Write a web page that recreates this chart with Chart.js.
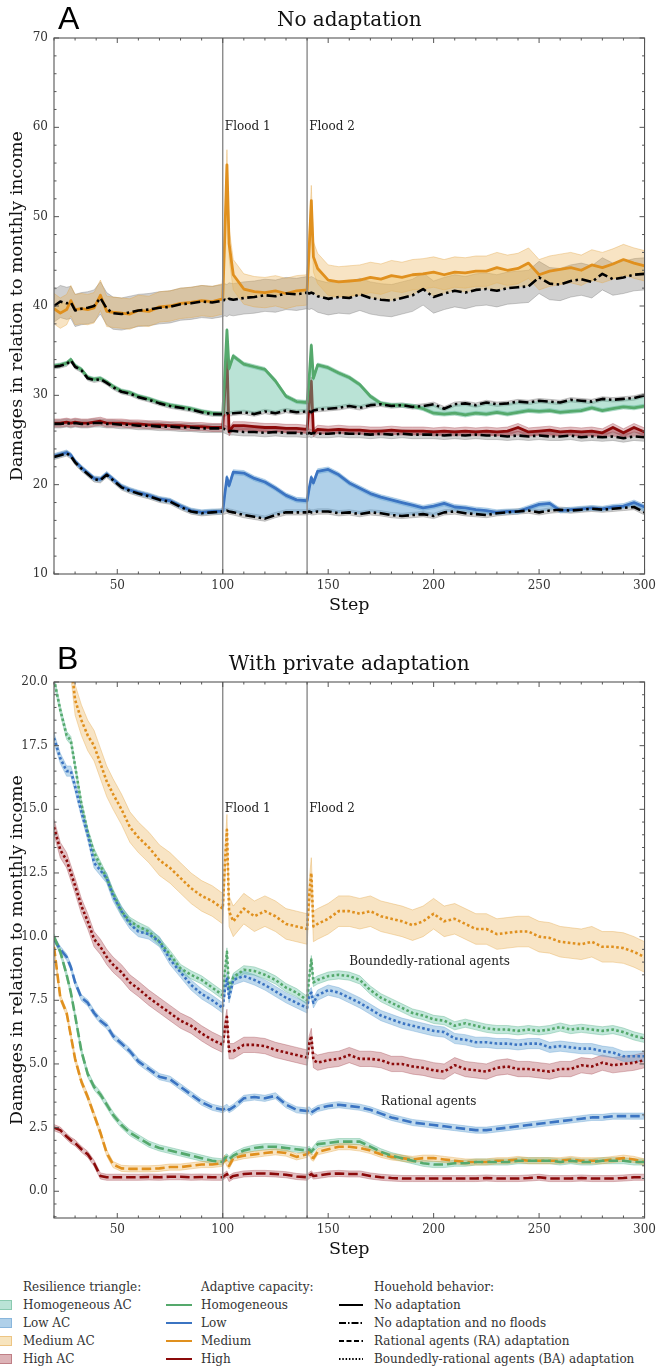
<!DOCTYPE html>
<html>
<head>
<meta charset="utf-8">
<script src="https://cdn.jsdelivr.net/npm/chart.js@4.4.1/dist/chart.umd.min.js"></script>
<style>
  html, body { margin: 0; padding: 0; background: #fff; }
  body { width: 661px; height: 1369px; overflow: hidden; position: relative; font-family: "DejaVu Serif", serif; }
  .wrap { position: absolute; left: 0; width: 661px; height: 620px; }
  #wrapA { top: 0; }
  #wrapB { top: 644px; }
  .plabel { position: absolute; font-family: "Liberation Sans", Arial, sans-serif; font-size: 32px; line-height: 32px; color: #000; }
  .lg { position: absolute; font-size: 12px; line-height: 18px; height: 18px; color: #333; white-space: nowrap; font-family: "DejaVu Serif", serif; }
  .sw { position: absolute; width: 17px; height: 10px; box-sizing: border-box; }
  svg.ln { position: absolute; overflow: visible; }
</style>
</head>
<body>
<div class="wrap" id="wrapA"><canvas id="cA" width="661" height="620"></canvas></div>
<div class="wrap" id="wrapB"><canvas id="cB" width="661" height="620"></canvas></div>
<div class="plabel" style="left:58px;top:2px;">A</div>
<div class="plabel" style="left:57px;top:642px;">B</div>
<div id="legend"></div>
<script>
// ---------------- DATA ----------------
const steps = [20,23,26,28,30, 33,36,39,42,45, 48,52,56,60,65, 70,75,80,85,90, 95,100,101,102,103,
  105,110,115,120,125, 130,135,140,141,142, 143,145,150,155,160, 165,170,175,180,185, 190,195,200,205,210,
  215,220,225,230,235, 240,245,250,255,260, 265,270,275,280,285, 290,295,300];

const xTicks = [50, 100, 150, 200, 250, 300];
const yTicksA = [10, 20, 30, 40, 50, 60, 70];
const yTicksB = [0, 2.5, 5, 7.5, 10, 12.5, 15, 17.5, 20];
const floodSteps = [100, 140];
const floodLabels = ['Flood 1', 'Flood 2'];

// Panel A: no adaptation (solid) and no adaptation & no floods (dash-dot)
const aMedium = [39.7,39.2,39.6,40.6,39.6, 39.7,39.6,39.8,41.2,39.4, 39.3,39.2,39.1,39.5,39.4, 39.9,40.0,40.3,40.4,40.6,
  40.5,40.8,48.0,55.8,47.0, 43.5,41.9,41.6,41.5,41.7, 41.4,41.7,41.8,46.5,51.8, 45.5,44.2,42.9,42.7,42.8,
  42.9,43.2,43.0,43.4,43.2, 43.5,43.6,43.8,43.5,43.8, 43.7,43.9,43.9,44.3,44.0, 44.2,44.8,43.5,43.9,44.1,
  44.3,44.0,44.6,44.3,44.7, 45.2,44.8,44.5];
const aMediumNoFlood = [40.0,40.5,40.3,40.4,39.5, 39.7,39.8,40.0,40.9,39.7, 39.2,39.1,39.3,39.5,39.6, 39.8,39.9,40.2,40.3,40.5,
  40.4,40.6,40.7,40.6,40.8, 40.7,40.9,41.0,41.2,41.1, 41.4,41.3,41.5,41.4,41.5, 41.4,41.1,40.8,41.0,40.9,
  41.3,40.9,40.7,40.6,40.9, 41.2,41.9,41.0,41.4,41.7, 41.5,41.8,41.9,41.7,42.0, 42.1,42.2,43.2,42.5,42.4,
  42.8,43.0,42.7,43.6,43.0, 43.2,43.5,43.6];
const aHomog = [33.3,33.4,33.6,34.0,33.3, 32.9,32.0,31.8,31.9,31.5, 31.0,30.5,30.3,29.9,29.6, 29.2,28.9,28.7,28.5,28.2,
  28.0,27.9,32.5,37.3,33.0, 34.4,33.5,33.2,32.9,31.6, 29.9,29.3,29.2,32.0,35.6, 31.9,33.4,33.1,32.5,32.0,
  31.2,29.9,29.1,28.9,28.9, 28.8,28.5,28.0,27.9,28.0, 27.8,28.0,27.9,28.1,27.9, 28.1,28.3,28.2,28.3,28.1,
  28.2,28.3,28.6,28.3,28.5, 28.7,28.6,28.8];
const aHomogNoFlood = [33.2,33.3,33.5,33.9,33.2, 32.8,31.9,31.7,31.8,31.4, 30.9,30.4,30.2,29.8,29.5, 29.1,28.8,28.6,28.4,28.1,
  27.9,27.9,27.9,28.0,27.9, 28.0,28.1,27.9,28.2,28.0, 28.3,28.1,28.2,28.2,28.1, 28.3,28.4,28.5,28.6,28.8,
  28.6,28.9,29.0,28.8,28.9, 28.7,28.8,29.0,28.5,29.0, 29.1,28.9,29.2,29.0,29.1, 29.3,29.2,29.4,29.3,29.2,
  29.5,29.4,29.3,29.6,29.5, 29.6,29.7,30.0];
const aHigh = [26.9,26.9,27.0,26.9,27.0, 26.9,26.9,27.0,27.1,26.9, 26.9,26.9,26.8,26.8,26.7, 26.7,26.6,26.6,26.5,26.5,
  26.4,26.4,30.5,34.5,25.9, 26.6,26.6,26.5,26.4,26.4, 26.3,26.3,26.2,29.0,31.6, 25.8,26.2,26.1,26.2,26.1,
  26.1,26.0,26.0,26.1,26.0, 26.0,26.0,25.9,26.0,25.9, 26.0,25.9,26.0,25.9,26.0, 26.4,25.9,26.0,26.1,25.9,
  26.0,25.9,26.0,25.8,26.4, 25.8,26.4,25.9];
const aHighNoFlood = [26.8,26.8,26.9,26.8,26.9, 26.8,26.8,26.9,26.9,26.8, 26.8,26.7,26.7,26.6,26.6, 26.5,26.5,26.4,26.4,26.3,
  26.3,26.3,26.2,26.1,26.0, 26.0,25.9,25.9,25.8,25.9, 25.8,25.8,25.7,25.8,25.7, 25.8,25.7,25.7,25.8,25.7,
  25.7,25.6,25.7,25.6,25.7, 25.6,25.6,25.6,25.5,25.6, 25.5,25.6,25.5,25.5,25.4, 25.5,25.4,25.5,25.4,25.4,
  25.5,25.3,25.4,25.3,25.4, 25.2,25.4,25.3];
const aLow = [23.2,23.4,23.6,23.3,22.6, 21.9,21.3,20.7,20.6,21.2, 20.6,19.8,19.4,19.1,18.8, 18.4,18.2,17.6,17.1,16.9,
  17.0,17.0,19.0,20.8,19.9, 21.4,21.3,20.7,20.3,19.6, 18.8,18.3,18.2,19.6,20.8, 20.2,21.5,21.7,21.1,20.2,
  19.6,19.0,18.6,18.3,18.0, 17.7,17.4,17.6,17.9,17.5, 17.4,17.2,17.1,16.9,17.0, 17.0,17.4,17.8,17.9,17.1,
  17.2,17.3,17.4,17.3,17.5, 17.6,18.0,17.5];
const aLowNoFlood = [23.1,23.3,23.5,23.2,22.5, 21.8,21.2,20.6,20.5,21.1, 20.5,19.7,19.3,19.0,18.7, 18.3,18.1,17.5,17.0,16.8,
  16.9,17.0,17.0,17.1,17.0, 16.9,16.6,16.4,16.2,16.6, 16.9,16.9,16.9,17.0,16.9, 16.9,17.0,17.0,16.8,16.9,
  16.7,16.9,16.8,16.6,16.5, 16.6,16.7,16.5,16.9,17.0, 16.8,16.7,16.6,16.8,16.9, 17.0,17.1,16.9,17.1,17.2,
  17.1,17.2,17.3,17.2,17.3, 17.4,17.5,16.9];

// Panel B: boundedly-rational (BA, dotted) and rational (RA, dashed) adaptation
const bMediumBA = [24.5,23.2,21.8,20.8,19.3, 18.5,17.9,17.5,16.8,16.1, 15.6,15.0,14.3,13.9,13.5, 13.0,12.7,12.3,11.9,11.6,
  11.4,11.1,12.8,14.2,11.0, 10.6,11.1,10.8,11.0,10.8, 10.5,10.4,10.3,11.6,12.5, 10.4,10.5,10.7,11.0,11.0,
  10.9,11.0,10.8,10.7,10.6, 10.45,10.6,10.9,10.6,10.7, 10.5,10.3,10.3,10.1,10.15, 10.2,10.2,10.0,9.95,9.8,
  9.75,9.7,9.8,9.6,9.6, 9.55,9.4,9.2];
const bHomogBA = [20.1,18.9,17.9,17.7,16.7, 15.2,14.1,13.3,12.8,12.3, 11.7,11.0,10.6,10.4,10.2, 9.8,9.3,8.75,8.5,8.3,
  8.0,7.7,8.6,9.4,7.9, 8.4,8.7,8.65,8.5,8.3, 8.0,7.8,7.5,8.4,9.1, 8.2,8.3,8.45,8.5,8.45,
  8.3,7.9,7.6,7.4,7.2, 7.0,6.9,6.75,6.7,6.5, 6.6,6.5,6.4,6.35,6.35, 6.3,6.35,6.3,6.35,6.45,
  6.35,6.4,6.35,6.3,6.35, 6.25,6.1,6.0];
const bLowBA = [17.8,17.0,16.5,16.5,15.9, 14.9,14.0,12.9,12.6,12.3, 11.6,11.0,10.5,10.2,10.1, 9.8,9.1,8.6,8.1,7.75,
  7.5,7.2,7.9,8.4,7.6, 8.3,8.45,8.3,8.1,7.85, 7.6,7.4,7.2,7.7,7.8, 7.4,7.7,7.9,7.8,7.6,
  7.4,7.15,6.9,6.75,6.6, 6.5,6.4,6.3,6.25,6.0, 5.95,5.85,5.85,5.8,5.8, 5.75,5.8,5.8,5.65,5.7,
  5.65,5.6,5.6,5.5,5.45, 5.3,5.3,5.3];
const bHighBA = [14.3,13.4,13.0,12.5,12.0, 11.2,10.6,9.9,9.6,9.2, 8.9,8.6,8.2,7.95,7.6, 7.3,7.0,6.7,6.5,6.2,
  5.95,5.75,6.4,6.85,5.5, 5.5,5.75,5.75,5.7,5.55, 5.45,5.35,5.25,5.8,6.1, 5.15,5.05,5.15,5.2,5.35,
  5.2,5.2,5.15,5.0,5.0, 4.9,4.85,4.75,4.7,4.95, 4.8,4.75,4.7,4.85,4.9, 4.8,4.8,4.75,4.7,4.8,
  4.8,4.95,4.9,5.05,4.95, 5.0,5.05,5.15];
const bLowRA = [9.9,9.5,9.2,8.8,8.2, 7.6,7.4,7.0,6.7,6.5, 6.1,5.8,5.5,5.1,4.8, 4.5,4.4,4.1,3.8,3.5,
  3.3,3.2,3.25,3.3,3.2, 3.3,3.65,3.7,3.65,3.75, 3.4,3.2,3.15,3.2,3.1, 3.15,3.25,3.35,3.4,3.35,
  3.3,3.2,3.05,2.9,2.8, 2.7,2.65,2.6,2.55,2.5, 2.45,2.4,2.4,2.45,2.5, 2.55,2.6,2.65,2.7,2.75,
  2.8,2.85,2.9,2.9,2.95, 2.95,2.95,2.95];
const bHomogRA = [10.0,9.4,8.5,7.8,6.9, 5.5,4.6,4.1,3.8,3.4, 3.0,2.6,2.3,2.1,1.85, 1.7,1.6,1.5,1.4,1.3,
  1.2,1.15,1.3,1.35,1.25, 1.4,1.6,1.7,1.75,1.75, 1.7,1.65,1.6,1.65,1.55, 1.65,1.85,1.9,1.95,1.95,
  1.95,1.75,1.55,1.4,1.3, 1.2,1.1,1.05,1.05,1.1, 1.1,1.15,1.15,1.15,1.15, 1.2,1.2,1.2,1.2,1.15,
  1.2,1.15,1.15,1.2,1.2, 1.2,1.15,1.15];
const bMediumRA = [9.6,7.6,7.0,6.1,5.2, 4.3,3.7,3.0,2.3,1.5, 1.05,0.9,0.88,0.88,0.88, 0.9,0.95,0.95,1.0,1.05,
  1.05,1.1,1.3,1.1,1.0, 1.3,1.4,1.45,1.5,1.55, 1.5,1.35,1.45,1.55,1.35, 1.3,1.55,1.65,1.75,1.75,
  1.7,1.6,1.45,1.35,1.3, 1.25,1.3,1.3,1.25,1.2, 1.15,1.15,1.15,1.2,1.2, 1.25,1.2,1.2,1.2,1.2,
  1.25,1.2,1.2,1.2,1.25, 1.3,1.25,1.15];
const bHighRA = [2.5,2.4,2.15,2.0,1.9, 1.65,1.45,1.1,0.6,0.55, 0.55,0.55,0.55,0.55,0.56, 0.55,0.57,0.57,0.55,0.56,
  0.55,0.55,0.62,0.68,0.5, 0.6,0.68,0.7,0.7,0.68, 0.65,0.58,0.55,0.62,0.68, 0.6,0.62,0.68,0.7,0.68,
  0.68,0.6,0.55,0.52,0.5, 0.5,0.5,0.5,0.5,0.5, 0.5,0.5,0.52,0.5,0.5, 0.5,0.52,0.55,0.5,0.5,
  0.5,0.52,0.5,0.5,0.5, 0.52,0.55,0.55];

// half-widths of the uncertainty bands
const spreadA = { medium: 1.7, mediumNF: 1.8, homog: 0.22, homogNF: 0.25, high: 0.45, highNF: 0.45, low: 0.28, lowNF: 0.3 };
const spreadB = { mediumBA: 0.6, homogBA: 0.16, lowBA: 0.2, highBA: 0.3, RA: 0.12 };

// legend texts
const legendTriangle = ['Homogeneous AC', 'Low AC', 'Medium AC', 'High AC'];
const legendCapacity = ['Homogeneous', 'Low', 'Medium', 'High'];
const legendBehavior = ['No adaptation', 'No adaptation and no floods', 'Rational agents (RA) adaptation', 'Boundedly-rational agents (BA) adaptation'];

// ---------------- STYLE ----------------
const COL = { homog: '#55a96c', low: '#3b74c2', medium: '#e0901e', high: '#8b0a0a' };
const TRI = { homog: 'rgba(102,194,165,0.45)', low: 'rgba(110,170,215,0.55)', medium: 'rgba(236,190,100,0.42)', high: 'rgba(165,55,65,0.38)' };
const BAND = { homog: 'rgba(102,194,165,0.40)', low: 'rgba(110,170,215,0.45)', medium: 'rgba(232,170,70,0.32)', high: 'rgba(165,55,65,0.32)', gray: 'rgba(110,110,110,0.32)' };
const EDGE = { homog: 'rgba(80,170,130,0.45)', low: 'rgba(90,150,205,0.45)', medium: 'rgba(225,160,60,0.45)', high: 'rgba(150,50,60,0.4)', gray: 'rgba(100,100,100,0.4)' };
const DASHDOT = [10, 3.5, 2.5, 3.5], DASHED = [9.5, 4], DOTTED = [2.6, 2.4];

Chart.defaults.font.family = '"DejaVu Serif", serif';
Chart.defaults.color = '#333';

const pts = vals => steps.map((s, i) => ({ x: s, y: vals[i] }));
function band(vals, hw, fillC, edgeC, order) {
  return [
    { data: pts(vals.map(v => v + hw)), borderColor: edgeC, borderWidth: 0.8, backgroundColor: fillC, fill: '+1', pointRadius: 0, order },
    { data: pts(vals.map(v => v - hw)), borderColor: edgeC, borderWidth: 0.8, backgroundColor: 'transparent', fill: false, pointRadius: 0, order }
  ];
}
function line(vals, color, width, dash, order, fill, fillColor) {
  return { data: pts(vals), borderColor: color, borderWidth: width, borderDash: dash, pointRadius: 0, tension: 0,
           fill: fill || false, backgroundColor: fillColor || 'transparent', order, borderCapStyle: 'butt', borderJoinStyle: 'round' };
}

// ---------------- PLUGIN: frame, inward ticks, flood lines, notes ----------------
const decor = {
  id: 'decor',
  afterDatasetsDraw(chart, args, o) {
    const { ctx, chartArea: ca, scales: { x, y } } = chart;
    ctx.save();
    ctx.strokeStyle = '#8a8a8a'; ctx.lineWidth = 1.4;
    floodSteps.forEach(s => { const px = x.getPixelForValue(s); ctx.beginPath(); ctx.moveTo(px, ca.top); ctx.lineTo(px, ca.bottom); ctx.stroke(); });
    ctx.fillStyle = '#222'; ctx.font = '12px "DejaVu Serif", serif'; ctx.textBaseline = 'middle'; ctx.textAlign = 'left';
    (o.notes || []).forEach(n => ctx.fillText(n.text, x.getPixelForValue(n.x), y.getPixelForValue(n.y)));
    ctx.strokeStyle = '#555'; ctx.lineWidth = 1.1;
    ctx.strokeRect(ca.left, ca.top, ca.right - ca.left, ca.bottom - ca.top);
    ctx.lineWidth = 1;
    ctx.beginPath();
    const majX = x.ticks.map(t => t.value), majY = y.ticks.map(t => t.value);
    const tx = (v, len) => { const p = x.getPixelForValue(v); ctx.moveTo(p, ca.bottom); ctx.lineTo(p, ca.bottom - len); ctx.moveTo(p, ca.top); ctx.lineTo(p, ca.top + len); };
    const ty = (v, len) => { const p = y.getPixelForValue(v); ctx.moveTo(ca.left, p); ctx.lineTo(ca.left + len, p); ctx.moveTo(ca.right, p); ctx.lineTo(ca.right - len, p); };
    majX.forEach(v => tx(v, 5)); majY.forEach(v => ty(v, 5));
    for (let v = Math.ceil(x.min / o.minorX) * o.minorX; v <= x.max + 1e-9; v += o.minorX) if (!majX.some(m => Math.abs(m - v) < 1e-6)) tx(v, 2.5);
    for (let v = Math.ceil(y.min / o.minorY) * o.minorY; v <= y.max + 1e-9; v += o.minorY) if (!majY.some(m => Math.abs(m - v) < 1e-6)) ty(v, 2.5);
    ctx.stroke();
    ctx.restore();
  }
};

function makeOptions(title, yMin, yMax, yTicks, fmt, notes, minorY) {
  return {
    responsive: false, devicePixelRatio: 1, animation: false, events: [],
    layout: { padding: { left: 0, right: 13, top: 0, bottom: 0 } },
    plugins: {
      legend: { display: false }, tooltip: { enabled: false },
      title: { display: true, text: title, fullSize: false, color: '#111', font: { size: 20, weight: 'normal' }, padding: { top: 9, bottom: 5 } },
      decor: { notes, minorX: 10, minorY }
    },
    scales: {
      x: { type: 'linear', min: 20, max: 300,
           grid: { display: false, drawTicks: false }, border: { display: false },
           afterBuildTicks: s => { s.ticks = xTicks.map(v => ({ value: v })); },
           afterFit: s => { s.height = 46; },
           ticks: { padding: 5, color: '#333', font: { size: 12 }, maxRotation: 0 },
           title: { display: true, text: 'Step', color: '#111', font: { size: 17.5 }, padding: { top: 0, bottom: 4 } } },
      y: { type: 'linear', min: yMin, max: yMax,
           grid: { display: false, drawTicks: false }, border: { display: false },
           afterBuildTicks: s => { s.ticks = yTicks.map(v => ({ value: v })); },
           afterFit: s => { s.width = 54; },
           ticks: { padding: 6, color: '#333', font: { size: 12 }, callback: fmt },
           title: { display: true, text: 'Damages in relation to monthly income', color: '#111', font: { size: 17.5 }, padding: { top: 7, bottom: 0 } } }
    }
  };
}

// ---------------- PANEL A ----------------
const dsA = [];
[['medium', aMedium, aMediumNoFlood], ['homog', aHomog, aHomogNoFlood], ['high', aHigh, aHighNoFlood], ['low', aLow, aLowNoFlood]]
  .forEach(([k, v, nf]) => {
    dsA.push(...band(nf, spreadA[k + 'NF'], BAND.gray, EDGE.gray, 40));
    dsA.push(...band(v, spreadA[k], BAND[k], EDGE[k], 30));
  });
[['medium', aMedium, aMediumNoFlood], ['homog', aHomog, aHomogNoFlood], ['high', aHigh, aHighNoFlood], ['low', aLow, aLowNoFlood]]
  .forEach(([k, v, nf]) => {
    dsA.push(line(v, COL[k], 2.8, [], 10, '+1', TRI[k]));
    dsA.push(line(nf, '#000', 2.6, DASHDOT, 5));
  });

new Chart(document.getElementById('cA'), {
  type: 'line',
  data: { datasets: dsA },
  options: makeOptions('No adaptation', 10, 70, yTicksA, v => String(v),
    [{ x: 101, y: 60, text: floodLabels[0] }, { x: 141, y: 60, text: floodLabels[1] }], 2),
  plugins: [decor]
});

// ---------------- PANEL B ----------------
const dsB = [];
[['medium', bMediumBA, spreadB.mediumBA], ['homog', bHomogBA, spreadB.homogBA], ['low', bLowBA, spreadB.lowBA], ['high', bHighBA, spreadB.highBA],
 ['medium', bMediumRA, spreadB.RA], ['homog', bHomogRA, spreadB.RA], ['low', bLowRA, spreadB.RA], ['high', bHighRA, spreadB.RA]]
  .forEach(([k, v, hw]) => dsB.push(...band(v, hw, BAND[k], EDGE[k], 30)));
[['high', bHighRA], ['homog', bHomogRA], ['medium', bMediumRA], ['low', bLowRA]]
  .forEach(([k, v]) => dsB.push(line(v, COL[k], 2.6, DASHED, 10)));
[['high', bHighBA], ['low', bLowBA], ['homog', bHomogBA], ['medium', bMediumBA]]
  .forEach(([k, v]) => dsB.push(line(v, COL[k], 2.6, DOTTED, 10)));

new Chart(document.getElementById('cB'), {
  type: 'line',
  data: { datasets: dsB },
  options: makeOptions('With private adaptation', -1.05, 20, yTicksB, v => Number(v).toFixed(1),
    [{ x: 101, y: 15, text: floodLabels[0] }, { x: 141, y: 15, text: floodLabels[1] },
     { x: 160, y: 9.0, text: 'Boundedly-rational agents' }, { x: 175, y: 3.5, text: 'Rational agents' }], 0.5),
  plugins: [decor]
});

// ---------------- LEGEND (HTML) ----------------
(function () {
  const L = document.getElementById('legend');
  const rowY = [1305, 1323, 1341, 1359], headY = 1287;
  const add = (html) => L.insertAdjacentHTML('beforeend', html);
  const text = (x, yc, t) => add(`<div class="lg" style="left:${x}px;top:${yc - 9}px">${t}</div>`);
  text(23, headY, 'Resilience triangle:');
  text(201, headY, 'Adaptive capacity:');
  text(374, headY, 'Houehold behavior:');
  const keys = ['homog', 'low', 'medium', 'high'];
  legendTriangle.forEach((t, i) => {
    add(`<div class="sw" style="left:-5px;top:${rowY[i] - 5}px;background:${TRI[keys[i]]};border:1px solid ${EDGE[keys[i]]}"></div>`);
    text(23, rowY[i], t);
  });
  legendCapacity.forEach((t, i) => {
    add(`<svg class="ln" width="26" height="4" style="left:166px;top:${rowY[i] - 2}px"><line x1="0" y1="2" x2="26" y2="2" stroke="${COL[keys[i]]}" stroke-width="2"/></svg>`);
    text(201, rowY[i], t);
  });
  const dashes = ['none', '7 2 1.5 2', '5 2.5', '1.5 1.8'];
  legendBehavior.forEach((t, i) => {
    add(`<svg class="ln" width="24" height="4" style="left:339px;top:${rowY[i] - 2}px"><line x1="0" y1="2" x2="24" y2="2" stroke="#000" stroke-width="2" stroke-dasharray="${dashes[i]}"/></svg>`);
    text(374, rowY[i], t);
  });
})();
</script>
</body>
</html>
